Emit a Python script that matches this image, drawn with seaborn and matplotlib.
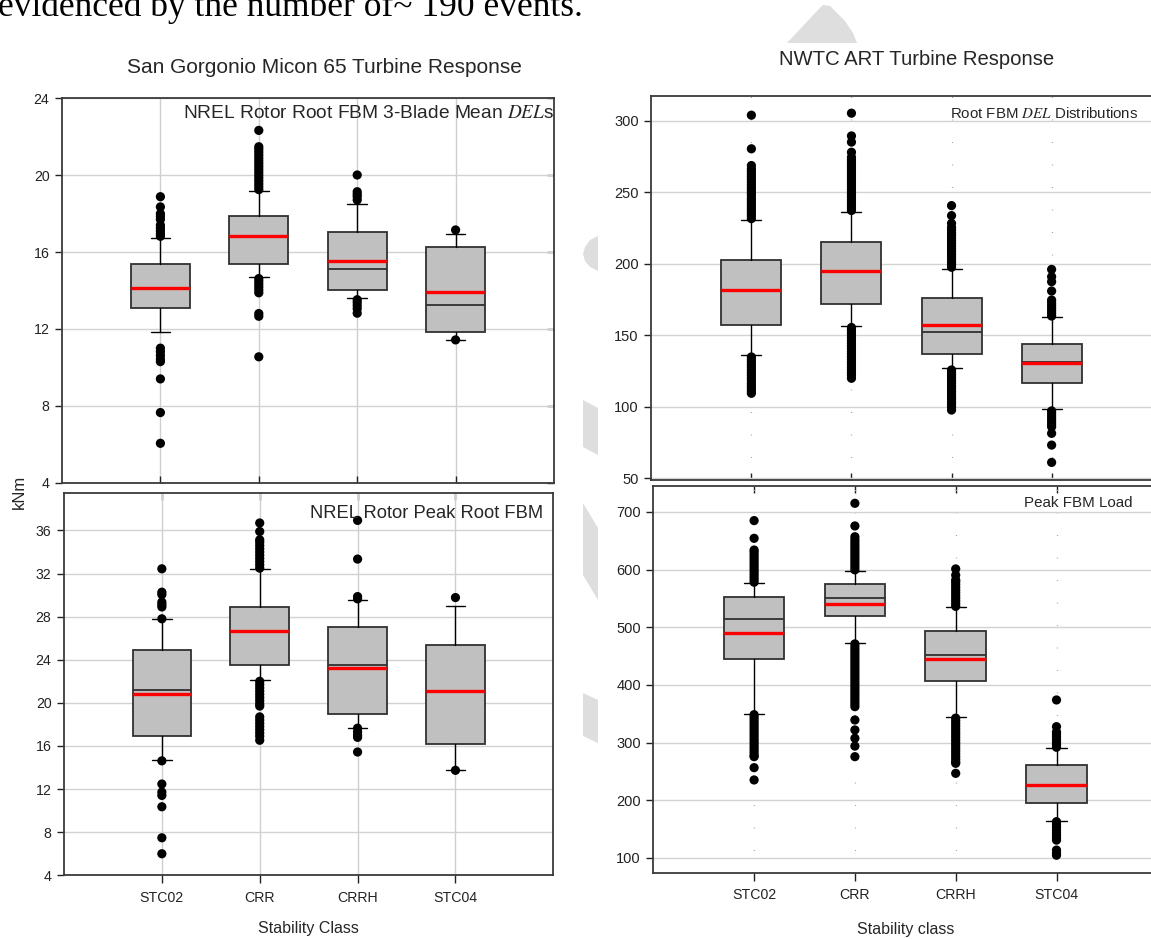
import numpy as np
import pandas as pd
import matplotlib
matplotlib.use("Agg")
import matplotlib.pyplot as plt
from matplotlib.patches import Polygon
import seaborn as sns

# ---------------------------------------------------------------- data
classes = ["STC02", "CRR", "CRRH", "STC04"]

# San Gorgonio Micon 65: rotor root FBM 3-blade mean DELs (kNm)
sg_del_med = [14.15, 16.80, 15.12, 13.22]
sg_del_q1 = [13.11, 15.37, 14.03, 11.86]
sg_del_q3 = [15.37, 17.90, 17.06, 16.28]
sg_del_lo = [11.85, 14.71, 13.63, 11.43]
sg_del_hi = [16.74, 19.18, 18.50, 16.96]
sg_del_mean = [14.12, 16.84, 15.56, 13.94]
sg_del_fliers = [
    [16.82, 16.95, 17.10, 17.25, 17.40, 17.70, 17.85, 18.00, 18.35, 18.88,
     11.00, 10.82, 10.62, 10.42, 10.30, 9.40, 7.65, 6.05],
    [19.25, 19.40, 19.55, 19.70, 19.85, 20.00, 20.15, 20.30, 20.45, 20.60,
     20.75, 20.90, 21.05, 21.20, 21.35, 21.48, 22.33,
     14.62, 14.48, 14.33, 14.18, 14.03, 13.88, 12.80, 12.66, 10.55],
    [18.71, 18.88, 19.00, 19.14, 20.01, 13.52, 13.38, 13.22, 13.05, 12.82],
    [17.15, 11.43],
]

# San Gorgonio Micon 65: rotor peak root FBM (kNm)
sg_peak_med = [21.15, 26.60, 23.48, 21.10]
sg_peak_q1 = [16.97, 23.48, 19.00, 16.22]
sg_peak_q3 = [24.93, 28.90, 27.04, 25.34]
sg_peak_lo = [14.73, 22.14, 17.71, 13.74]
sg_peak_hi = [27.76, 32.44, 29.53, 29.02]
sg_peak_mean = [20.78, 26.64, 23.23, 21.09]
sg_peak_fliers = [
    [27.80, 28.90, 29.12, 29.35, 30.05, 30.27, 32.44,
     14.62, 12.47, 11.72, 11.41, 10.36, 7.48, 6.00],
    [32.50, 32.80, 33.10, 33.40, 33.70, 34.00, 34.30, 34.60, 34.90, 35.13,
     35.90, 36.69,
     22.00, 21.70, 21.40, 21.10, 20.80, 20.50, 20.20, 19.90, 19.70, 18.70,
     18.40, 18.10, 17.80, 17.50, 17.20, 16.90, 16.53],
    [29.65, 29.86, 33.34, 36.93, 17.65, 17.30, 17.00, 16.80, 15.44],
    [29.77, 13.74],
]

# NWTC ART: root FBM DEL distributions
nw_del_med = [181.5, 194.5, 152.5, 131.0]
nw_del_q1 = [157.1, 171.6, 136.9, 116.8]
nw_del_q3 = [202.6, 215.0, 176.2, 143.8]
nw_del_lo = [136.0, 156.6, 126.9, 98.2]
nw_del_hi = [230.3, 236.0, 196.3, 162.5]
nw_del_mean = [181.6, 194.7, 157.3, 130.8]
nw_del_fliers = [
    [231.5, 233.4, 235.1, 237.0, 238.8, 240.6, 242.5, 244.3, 246.0, 248.1,
     249.9, 251.7, 253.4, 255.3, 257.2, 259.0, 260.8, 262.6, 264.5, 266.3,
     268.6, 280.3, 303.8,
     134.8, 133.0, 131.1, 129.3, 127.5, 125.6, 123.8, 122.0, 120.1, 118.3,
     116.4, 114.6, 112.8, 111.0, 109.4],
    [237.2, 239.1, 241.0, 242.8, 244.7, 246.5, 248.4, 250.2, 252.1, 254.0,
     255.8, 257.7, 259.5, 261.4, 263.2, 265.1, 267.0, 268.8, 270.7, 272.5,
     274.4, 277.9, 285.0, 289.3, 305.2,
     155.4, 153.5, 151.7, 149.8, 148.0, 146.1, 144.3, 142.4, 140.6, 138.7,
     136.9, 135.0, 133.2, 131.3, 129.5, 127.6, 125.8, 123.9, 122.1, 119.9],
    [197.5, 199.4, 201.3, 203.1, 205.0, 206.8, 208.7, 210.5, 212.4, 214.2,
     216.1, 217.9, 219.8, 221.6, 223.5, 225.3, 228.2, 233.6, 240.6,
     125.7, 123.9, 122.0, 120.2, 118.3, 116.5, 114.6, 112.8, 110.9, 109.1,
     107.2, 105.4, 103.5, 101.7, 99.8, 97.7],
    [163.4, 165.3, 167.1, 169.0, 170.8, 172.7, 174.6, 180.9, 187.4, 190.9, 196.0,
     97.1, 95.3, 93.4, 91.6, 89.7, 87.9, 86.0, 81.4, 73.2, 61.1],
]

# NWTC ART: peak FBM load
nw_peak_med = [515.0, 550.3, 451.5, 226.5]
nw_peak_q1 = [444.6, 520.2, 406.5, 195.0]
nw_peak_q3 = [552.0, 575.2, 494.2, 260.8]
nw_peak_lo = [350.2, 472.8, 344.0, 164.7]
nw_peak_hi = [576.9, 598.2, 534.8, 290.3]
nw_peak_mean = [489.6, 540.5, 445.6, 226.6]
nw_peak_fliers = [
    [578.2, 582.9, 587.6, 592.4, 597.1, 601.8, 606.6, 611.3, 616.0, 620.8,
     625.5, 630.2, 634.0, 654.3, 685.0,
     348.5, 343.7, 339.0, 334.2, 329.5, 324.8, 320.0, 315.3, 310.6, 305.8,
     301.1, 296.4, 291.6, 286.9, 282.2, 277.4, 275.7, 256.6, 235.3],
    [599.6, 604.3, 609.1, 613.8, 618.5, 623.3, 628.0, 632.7, 637.5, 642.2,
     646.9, 651.7, 657.0, 675.7, 715.0,
     471.2, 466.5, 461.7, 457.0, 452.3, 447.5, 442.8, 438.1, 433.3, 428.6,
     423.9, 419.1, 414.4, 409.7, 404.9, 400.2, 395.5, 390.7, 386.0, 381.3,
     376.5, 371.8, 367.1, 362.4, 339.3, 322.0, 307.6, 294.0, 275.7],
    [536.3, 541.0, 545.8, 550.5, 555.2, 560.0, 564.7, 569.4, 574.2, 578.9,
     582.0, 590.4, 601.2,
     342.5, 337.8, 333.0, 328.3, 323.6, 318.8, 314.1, 309.4, 304.6, 299.9,
     295.2, 290.4, 285.7, 281.0, 276.2, 271.5, 266.8, 264.2, 246.8],
    [292.0, 296.7, 301.4, 306.2, 310.9, 315.6, 318.5, 327.7, 374.0,
     163.0, 158.3, 153.5, 148.8, 144.1, 139.3, 134.6, 131.0, 113.7, 108.6, 104.8],
]

# ---------------------------------------------------------------- style
sns.set_theme(style="white")
plt.rcParams["font.family"] = ["Liberation Sans", "DejaVu Sans"]
plt.rcParams["mathtext.fontset"] = "stix"
plt.rcParams["axes.unicode_minus"] = False

W, H = 1151, 939
fig = plt.figure(figsize=(W / 100, H / 100), dpi=100)


def px_rect(x0, y0, x1, y1):
    """Axes rectangle in figure fractions from pixel corners (top-left origin)."""
    return [x0 / W, 1 - y1 / H, (x1 - x0) / W, (y1 - y0) / H]


def fx(x):
    return x / W


def fy(y):
    return 1 - y / H


BOX_FACE = "#c0c0c0"
EDGE = "#303030"


def draw_panel(ax, med, q1, q3, lo, hi, mean, fliers, dotted_vgrid):
    pos = list(range(len(classes)))
    stats = [dict(med=med[i], q1=q1[i], q3=q3[i], whislo=lo[i], whishi=hi[i],
                  mean=mean[i], fliers=[], label=classes[i]) for i in pos]
    ax.bxp(stats, positions=pos, widths=0.6, capwidths=0.2, patch_artist=True,
           showmeans=True, meanline=True, showfliers=False, manage_ticks=False,
           boxprops=dict(facecolor=BOX_FACE, edgecolor=EDGE, linewidth=1.3),
           medianprops=dict(color=EDGE, linewidth=1.3),
           meanprops=dict(color="#ff0000", linestyle="-", linewidth=2.4),
           whiskerprops=dict(color="black", linewidth=1.0),
           capprops=dict(color="black", linewidth=1.0),
           zorder=2)
    df = pd.DataFrame({
        "pos": np.concatenate([[i] * len(f) for i, f in enumerate(fliers)]),
        "value": np.concatenate(fliers),
    })
    sns.scatterplot(data=df, x="pos", y="value", ax=ax, color="black", s=44,
                    edgecolor="none", linewidth=0, zorder=3, legend=False)
    ax.set_xlim(-1, 4)
    ax.set_xticks(pos)
    ax.set_xlabel("")
    ax.set_ylabel("")
    ax.set_axisbelow(True)
    ax.grid(True, axis="y", color="#d2d2d2", linewidth=1.0)
    if dotted_vgrid:
        ax.grid(True, axis="x", color="#a8a8a8", linewidth=0.9,
                linestyle=(0, (0.8, 17.2)))
    else:
        ax.grid(True, axis="x", color="#cfcfcf", linewidth=1.0)
    for sp in ax.spines.values():
        sp.set_color("#3a3a3a")
        sp.set_linewidth(1.3)


def style_ticks(ax, bottom_panel, ysize):
    ax.tick_params(axis="y", direction="out", length=5, width=1, colors="#222222",
                   labelsize=ysize, pad=4, left=True)
    if bottom_panel:
        ax.tick_params(axis="x", direction="out", length=6, width=1,
                       colors="#222222", labelsize=10.2, pad=5, bottom=True)
        ax.set_xticklabels(classes)
        top = ax.secondary_xaxis("top")
        top.set_xticks(range(len(classes)))
        top.tick_params(direction="in", length=5, width=1, colors="#222222",
                        labeltop=False)
        top.spines["top"].set_visible(False)
    else:
        ax.tick_params(axis="x", direction="in", length=5, width=1,
                       colors="#222222", labelbottom=False, bottom=True)


# ---------------------------------------------------------------- panels
ax_tl = fig.add_axes(px_rect(62, 98.3, 554, 482.7))
draw_panel(ax_tl, sg_del_med, sg_del_q1, sg_del_q3, sg_del_lo, sg_del_hi,
           sg_del_mean, sg_del_fliers, dotted_vgrid=False)
ax_tl.set_ylim(4, 24)
ax_tl.set_yticks(np.arange(4, 25, 4))
style_ticks(ax_tl, False, 10.2)
right_tl = ax_tl.secondary_yaxis("right")
right_tl.set_yticks(np.arange(4, 25, 4))
right_tl.tick_params(direction="in", length=5, width=1, colors="#222222",
                     labelright=False)
right_tl.spines["right"].set_visible(False)

ax_bl = fig.add_axes(px_rect(64, 492.7, 553.3, 875.3))
draw_panel(ax_bl, sg_peak_med, sg_peak_q1, sg_peak_q3, sg_peak_lo, sg_peak_hi,
           sg_peak_mean, sg_peak_fliers, dotted_vgrid=False)
ax_bl.set_ylim(4, 39.5)
ax_bl.set_yticks(np.arange(4, 37, 4))
style_ticks(ax_bl, True, 10.2)

ax_tr = fig.add_axes(px_rect(651.3, 96.3, 1151.7, 480))
draw_panel(ax_tr, nw_del_med, nw_del_q1, nw_del_q3, nw_del_lo, nw_del_hi,
           nw_del_mean, nw_del_fliers, dotted_vgrid=True)
ax_tr.set_ylim(48.8, 317)
ax_tr.set_yticks(np.arange(50, 301, 50))
style_ticks(ax_tr, False, 10.5)

ax_br = fig.add_axes(px_rect(653.3, 486, 1157.3, 872.7))
draw_panel(ax_br, nw_peak_med, nw_peak_q1, nw_peak_q3, nw_peak_lo, nw_peak_hi,
           nw_peak_mean, nw_peak_fliers, dotted_vgrid=True)
ax_br.set_ylim(74.5, 745)
ax_br.set_yticks(np.arange(100, 701, 100))
style_ticks(ax_br, True, 10.5)

# ---------------------------------------------------------------- text
fig.text(fx(-2), fy(15.5), "evidenced by the number of~ 190 events.",
         family=["Liberation Serif", "DejaVu Serif"], fontsize=25.5,
         ha="left", va="baseline", color="black")

fig.text(fx(324), fy(73.3), "San Gorgonio Micon 65 Turbine Response",
         ha="center", va="baseline", fontsize=15)
fig.text(fx(917), fy(65), "NWTC ART Turbine Response",
         ha="center", va="baseline", fontsize=14.6)

fig.text(fx(554), fy(118.3), r"NREL Rotor Root FBM 3-Blade Mean $\mathit{DEL}$s",
         ha="right", va="baseline", fontsize=13.8)
fig.text(fx(543), fy(517.7), "NREL Rotor Peak Root FBM",
         ha="right", va="baseline", fontsize=13.2)
fig.text(fx(1138), fy(118.3), r"Root FBM $\mathit{DEL}$ Distributions",
         ha="right", va="baseline", fontsize=10.8)
fig.text(fx(1132), fy(506.7), "Peak FBM Load",
         ha="right", va="baseline", fontsize=10.9)

fig.text(fx(308), fy(933), "Stability Class", ha="center", va="baseline",
         fontsize=11.5)
fig.text(fx(906), fy(934), "Stability class", ha="center", va="baseline",
         fontsize=11.5)
fig.text(fx(19), fy(492), "kNm", rotation=90, ha="center", va="center",
         fontsize=12)

# light grey page marks around the right-hand panels
marks = [
    [(787, 43), (818, 10), (823, 5), (830, 6), (845, 21), (853, 33), (857, 43)],
    [(598, 236), (590, 240), (585, 247), (583, 254), (585, 261), (590, 267), (598, 271)],
    [(583, 400), (598, 408), (598, 455), (583, 447)],
    [(583, 503), (598, 528), (598, 600), (583, 575)],
    [(583, 693), (598, 700), (598, 743), (583, 736)],
]
for pts in marks:
    fig.patches.append(Polygon([(fx(x), fy(y)) for x, y in pts], closed=True,
                               transform=fig.transFigure, facecolor="#dedede",
                               edgecolor="none", zorder=0))

fig.savefig("out.png", dpi=100, facecolor="white")
